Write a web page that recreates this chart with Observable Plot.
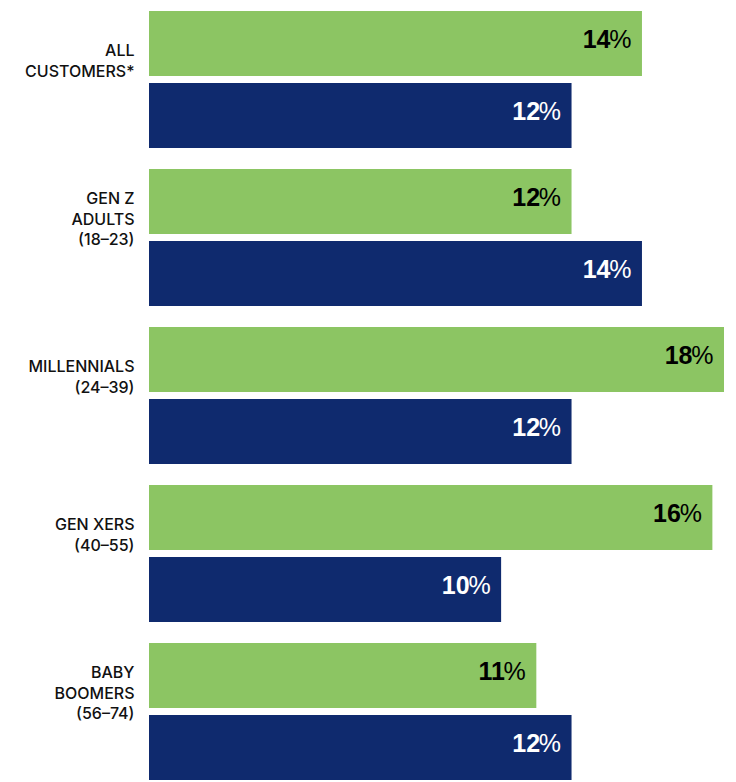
<!DOCTYPE html>
<html>
<head>
<meta charset="utf-8">
<script src="https://cdn.jsdelivr.net/npm/d3@7"></script>
<script src="https://cdn.jsdelivr.net/npm/@observablehq/plot@0.6"></script>
<style>
  html, body { margin: 0; padding: 0; background: #fff; }
  #chart svg { display: block; }
  g[aria-label="group-labels"] text { letter-spacing: 1px; }
</style>
</head>
<body>
<div id="chart"></div>
<script>
const groups = ["ALL\nCUSTOMERS*", "GEN Z\nADULTS\n(18–23)", "MILLENNIALS\n(24–39)", "GEN XERS\n(40–55)", "BABY\nBOOMERS\n(56–74)"];
const series = ["Series 1", "Series 2"];
const values1 = [14, 12, 18, 16, 11];
const values2 = [12, 14, 12, 10, 12];

const rows = groups.flatMap((g, i) => [
  {group: g, series: series[0], value: values1[i]},
  {group: g, series: series[1], value: values2[i]}
]);

const common = {x: "value", y: "series", fy: "group"};
const valueFont = "'Liberation Sans', Arial, sans-serif";

const chart = Plot.plot({
  width: 736,
  height: 782,
  marginLeft: 149,
  marginRight: 12,
  marginTop: 11,
  marginBottom: 2,
  style: {fontFamily: "Inter, 'Open Sans', sans-serif", background: "#fff"},
  x: {domain: [0, 16.33], clamp: true, axis: null},
  y: {domain: series, paddingInner: 0.1, paddingOuter: 0, axis: null},
  fy: {domain: groups, paddingInner: 0.136, paddingOuter: 0, axis: null},
  color: {domain: series, range: ["#8cc563", "#0f2a6e"]},
  marks: [
    Plot.barX(rows, {...common, fill: "series"}),
    // percent sign (lighter weight)
    Plot.text(rows, {...common, text: () => "%", filter: d => d.series === series[0], textAnchor: "end", dx: -11, dy: -4, fontSize: 25, fontFamily: valueFont, fill: "#000"}),
    Plot.text(rows, {...common, text: () => "%", filter: d => d.series === series[1], textAnchor: "end", dx: -11, dy: -4, fontSize: 25, fontFamily: valueFont, fill: "#fff"}),
    // digits (bold)
    Plot.text(rows, {...common, text: d => String(d.value), filter: d => d.series === series[0], textAnchor: "end", dx: -32, dy: -4, fontSize: 25, fontWeight: "bold", fontFamily: valueFont, fill: "#000"}),
    Plot.text(rows, {...common, text: d => String(d.value), filter: d => d.series === series[1], textAnchor: "end", dx: -32, dy: -4, fontSize: 25, fontWeight: "bold", fontFamily: valueFont, fill: "#fff"}),
    // group labels
    Plot.text(groups, {fy: d => d, text: d => d, frameAnchor: "left", textAnchor: "end", lineAnchor: "middle", dx: -15, dy: -20, lineHeight: 1.3, fontSize: 16, fontWeight: 500, fill: "#111", ariaLabel: "group-labels"})
  ]
});
document.getElementById("chart").appendChild(chart);
</script>
</body>
</html>
